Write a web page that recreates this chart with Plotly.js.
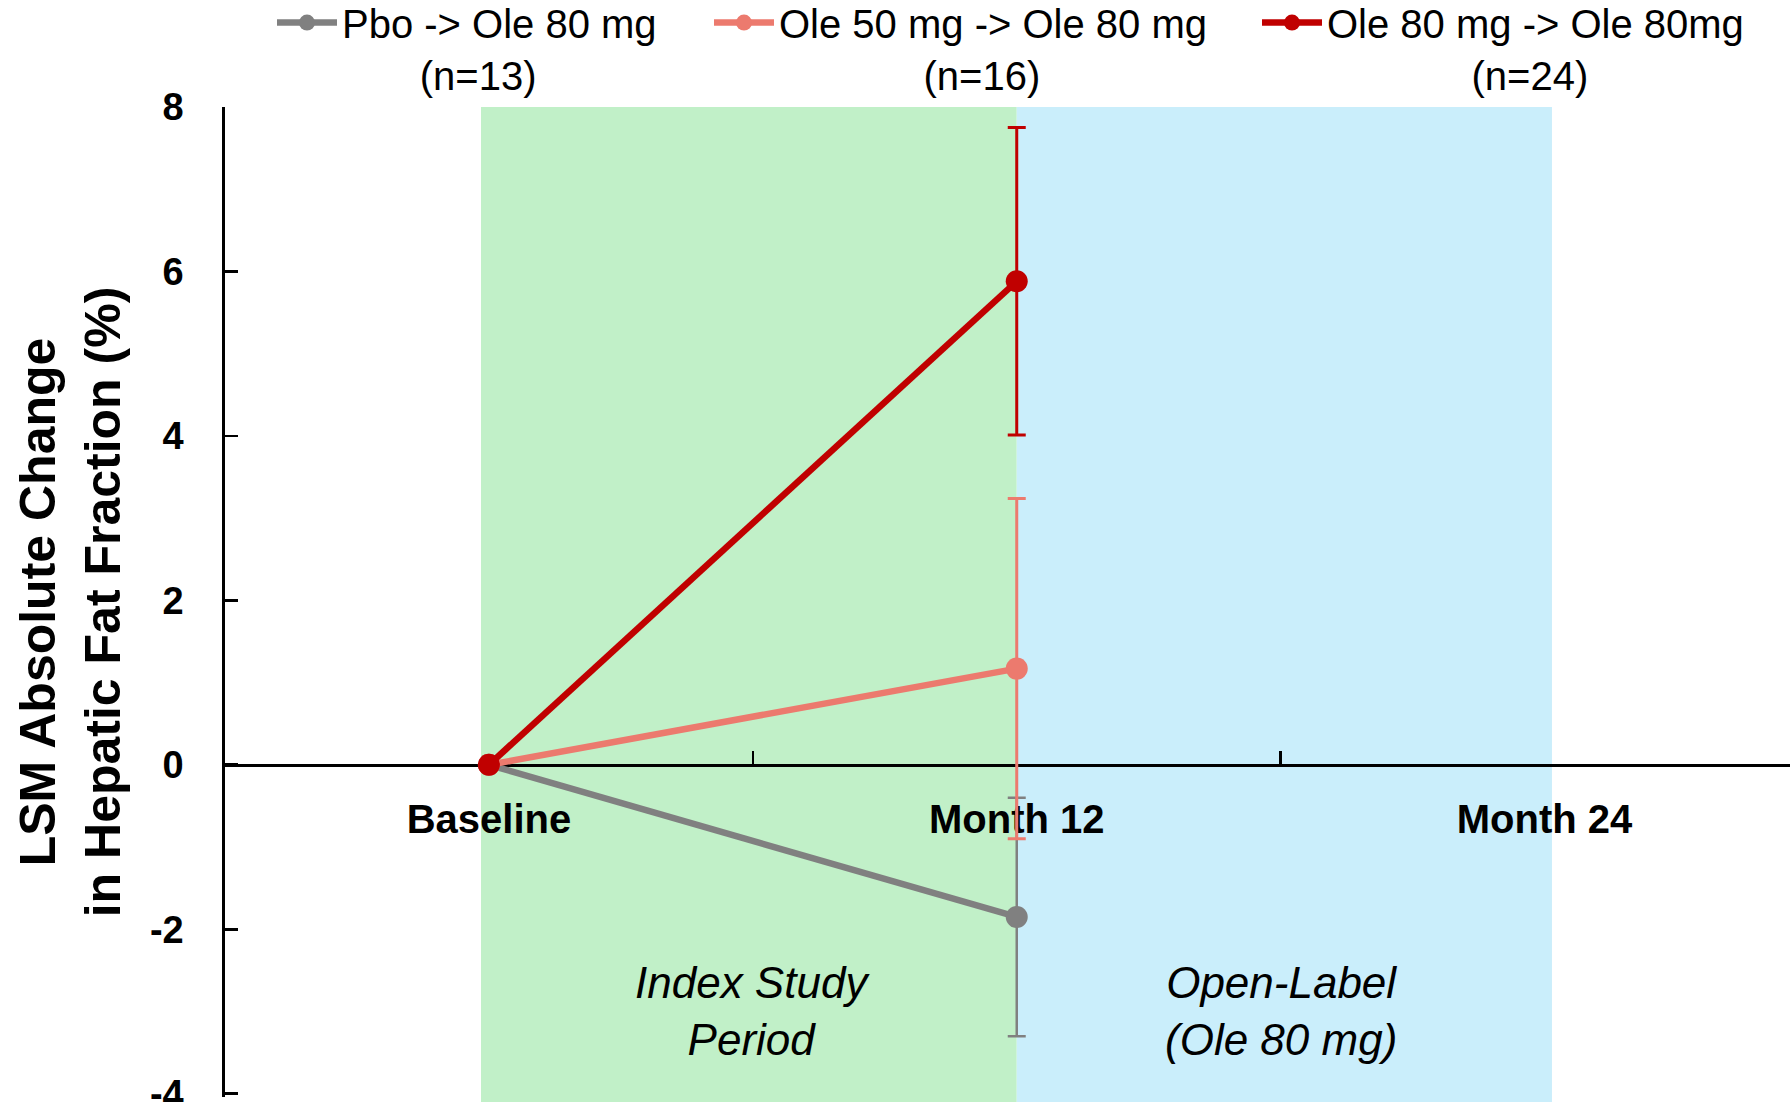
<!DOCTYPE html>
<html>
<head>
<meta charset="utf-8">
<script src="https://cdn.plot.ly/plotly-3.0.1.min.js"></script>
<style>
  html, body { margin: 0; padding: 0; background: #ffffff; }
  #chart { width: 1790px; height: 1102px; }
</style>
</head>
<body>
<div id="chart"></div>
<script>
// Visits on the category axis
const categories = ['Baseline', 'Month 12', 'Month 24'];
const visits = ['Baseline', 'Month 12'];

// Treatment groups
const seriesNames = ['Pbo -> Ole 80 mg', 'Ole 50 mg -> Ole 80 mg', 'Ole 80 mg -> Ole 80mg'];
const seriesN = ['(n=13)', '(n=16)', '(n=24)'];

// LSM absolute change in hepatic fat fraction (%) and error half-widths
const pboValues = [0, -1.85];
const pboErrors = [null, 1.45];
const ole50Values = [0, 1.17];
const ole50Errors = [null, 2.07];
const ole80Values = [0, 5.88];
const ole80Errors = [null, 1.87];

// Axis ticks and text
const yTickVals = [-4, -2, 0, 2, 4, 6, 8];
const yTickText = ['-4', '-2', '0', '2', '4', '6', '8'];
const yAxisTitle = 'LSM Absolute Change<br>in Hepatic Fat Fraction (%)';
const periodLabels = ['Index Study<br>Period', 'Open-Label<br>(Ole 80 mg)'];

const FONT = 'Liberation Sans, Arial, Helvetica, sans-serif';
const colors = ['#808080', '#EC7A6E', '#C00000'];
const errThickness = [2.5, 3, 3];
const values = [pboValues, ole50Values, ole80Values];
const errors = [pboErrors, ole50Errors, ole80Errors];
const legendIds = ['legend', 'legend2', 'legend3'];
const nPad = [7, 13, 13];

// value range of the y axis (a hair below -4 keeps the bottom tick drawn)
const yMin = -4.04, yMax = 8;

// plot-area geometry helpers for placing legends in the top margin
const M = { l: 225, r: 0, t: 107, b: 4.7 };
const W = 1790, H = 1102;
const plotW = W - M.l - M.r, plotH = H - M.t - M.b;
const px2x = px => (px - M.l) / plotW;
const px2y = py => (H - M.b - py) / plotH;

const traces = seriesNames.map((name, i) => ({
  type: 'scatter',
  mode: 'lines+markers',
  x: visits,
  y: values[i],
  name: name + '<br>' + '\u00A0'.repeat(nPad[i]) + seriesN[i],
  legend: legendIds[i],
  line: { color: colors[i], width: 6.5 },
  marker: { color: colors[i], size: 22, symbol: 'circle' },
  error_y: {
    type: 'data',
    array: errors[i],
    visible: true,
    color: colors[i],
    thickness: errThickness[i],
    width: 9
  },
  cliponaxis: false,
  hoverinfo: 'x+y'
}));

const legendBase = {
  xanchor: 'left',
  yanchor: 'top',
  orientation: 'v',
  valign: 'top',
  itemwidth: 60,
  bgcolor: 'rgba(0,0,0,0)',
  borderwidth: 0,
  font: { family: FONT, size: 40, color: '#000000' }
};
const legendLeft = [272, 709, 1257];

const layout = {
  width: W,
  height: H,
  margin: { l: M.l, r: M.r, t: M.t, b: M.b, autoexpand: false },
  paper_bgcolor: '#ffffff',
  plot_bgcolor: 'rgba(0,0,0,0)',
  showlegend: true,
  legend: Object.assign({}, legendBase, { x: px2x(legendLeft[0]), y: px2y(-10) }),
  legend2: Object.assign({}, legendBase, { x: px2x(legendLeft[1]), y: px2y(-10) }),
  legend3: Object.assign({}, legendBase, { x: px2x(legendLeft[2]), y: px2y(-10) }),
  xaxis: {
    type: 'category',
    categoryorder: 'array',
    categoryarray: categories,
    tickvals: categories,
    range: [-0.5, 2.465],
    anchor: 'free',
    position: (0 - yMin) / (yMax - yMin),
    showline: true,
    linecolor: '#000000',
    linewidth: 3,
    ticks: 'inside',
    tickson: 'boundaries',
    ticklen: 13,
    tickwidth: 2.5,
    tickcolor: '#000000',
    showgrid: false,
    zeroline: false,
    tickfont: { family: FONT, size: 40, weight: 'bold', color: '#000000' },
    ticklabelstandoff: 18,
    layer: 'below traces',
    fixedrange: true
  },
  yaxis: {
    range: [yMin, yMax],
    tickmode: 'array',
    tickvals: yTickVals,
    ticktext: yTickText,
    ticklabeloverflow: 'allow',
    showline: true,
    linecolor: '#000000',
    linewidth: 2.7,
    ticks: 'inside',
    ticklen: 13,
    tickwidth: 2.7,
    tickcolor: '#000000',
    showgrid: false,
    zeroline: false,
    tickfont: { family: FONT, size: 38, weight: 'bold', color: '#000000' },
    ticklabelstandoff: 31,
    title: {
      text: yAxisTitle,
      font: { family: FONT, size: 50, weight: 'bold', color: '#000000' },
      standoff: 14
    },
    automargin: false,
    layer: 'below traces',
    fixedrange: true
  },
  shapes: [
    { type: 'rect', xref: 'x', yref: 'paper', x0: -0.015, x1: 1, y0: -0.02, y1: 1,
      fillcolor: '#C1F0C8', line: { width: 0 }, layer: 'below' },
    { type: 'rect', xref: 'x', yref: 'paper', x0: 1, x1: 2.014, y0: -0.02, y1: 1,
      fillcolor: '#CAEEFB', line: { width: 0 }, layer: 'below' }
  ],
  annotations: periodLabels.map((t, i) => ({
    x: i + 0.5,
    y: -3,
    xref: 'x',
    yref: 'y',
    text: t,
    showarrow: false,
    xanchor: 'center',
    yanchor: 'middle',
    font: { family: FONT, size: 44, style: 'italic', color: '#000000' }
  }))
};

Plotly.newPlot('chart', traces, layout, { displayModeBar: false, staticPlot: true });
</script>
</body>
</html>
